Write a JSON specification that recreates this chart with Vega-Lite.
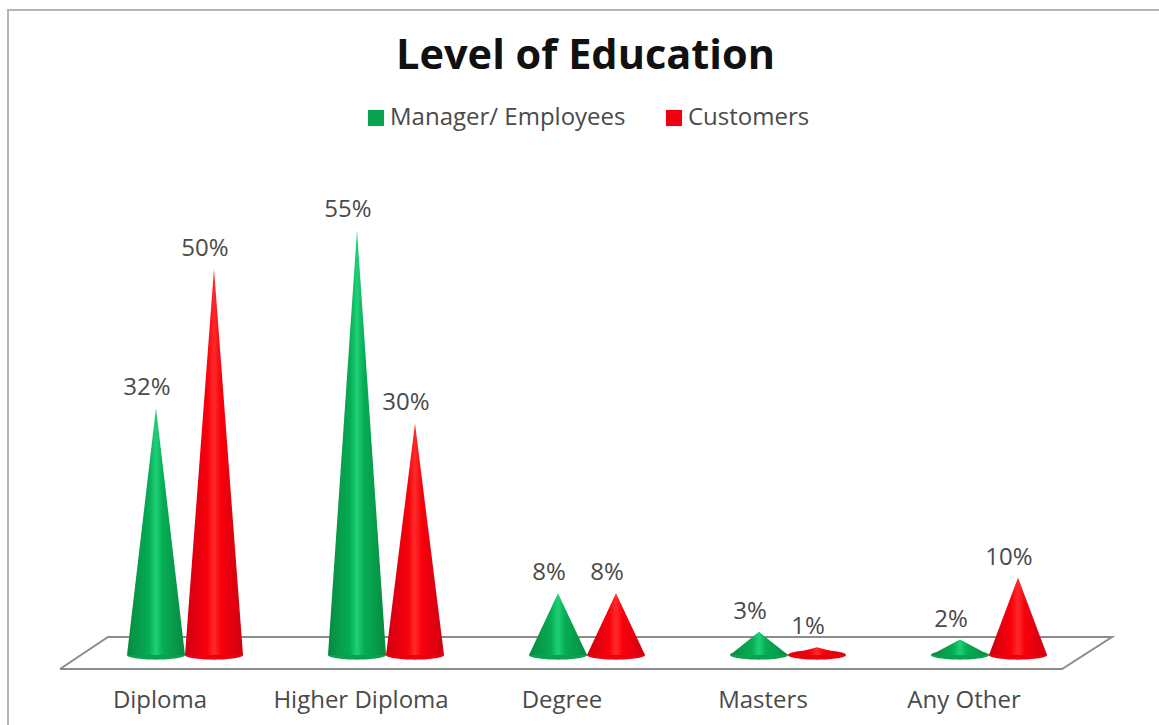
{
"$schema":"https://vega.github.io/schema/vega-lite/v6.json",
"width":1155,"height":720,"autosize":{"type":"none"},
"padding":{"left":8,"top":10,"right":0,"bottom":0},
"background":"white",
"view":{"stroke":"#b5b5b5","strokeWidth":2,"fill":"white"},
"title":{"text":"Level of Education","font":"Open Sans","fontWeight":"bold","fontSize":41.5,"color":"#111111","anchor":"middle","offset":-67},
"datasets":{
"cones":[
{"category":"Diploma","series":"Manager/ Employees","part":"left-edge","value":0},
{"category":"Diploma","series":"Manager/ Employees","part":"manager-tip","value":0.32},
{"category":"Diploma","series":"Manager/ Employees","part":"middle","value":0},
{"category":"Diploma","series":"Customers","part":"middle","value":0},
{"category":"Diploma","series":"Customers","part":"customer-tip","value":0.50},
{"category":"Diploma","series":"Customers","part":"right-edge","value":0},
{"category":"Higher Diploma","series":"Manager/ Employees","part":"left-edge","value":0},
{"category":"Higher Diploma","series":"Manager/ Employees","part":"manager-tip","value":0.55},
{"category":"Higher Diploma","series":"Manager/ Employees","part":"middle","value":0},
{"category":"Higher Diploma","series":"Customers","part":"middle","value":0},
{"category":"Higher Diploma","series":"Customers","part":"customer-tip","value":0.30},
{"category":"Higher Diploma","series":"Customers","part":"right-edge","value":0},
{"category":"Degree","series":"Manager/ Employees","part":"left-edge","value":0},
{"category":"Degree","series":"Manager/ Employees","part":"manager-tip","value":0.08},
{"category":"Degree","series":"Manager/ Employees","part":"middle","value":0},
{"category":"Degree","series":"Customers","part":"middle","value":0},
{"category":"Degree","series":"Customers","part":"customer-tip","value":0.08},
{"category":"Degree","series":"Customers","part":"right-edge","value":0},
{"category":"Masters","series":"Manager/ Employees","part":"left-edge","value":0},
{"category":"Masters","series":"Manager/ Employees","part":"manager-tip","value":0.03},
{"category":"Masters","series":"Manager/ Employees","part":"middle","value":0},
{"category":"Masters","series":"Customers","part":"middle","value":0},
{"category":"Masters","series":"Customers","part":"customer-tip","value":0.01},
{"category":"Masters","series":"Customers","part":"right-edge","value":0},
{"category":"Any Other","series":"Manager/ Employees","part":"left-edge","value":0},
{"category":"Any Other","series":"Manager/ Employees","part":"manager-tip","value":0.02},
{"category":"Any Other","series":"Manager/ Employees","part":"middle","value":0},
{"category":"Any Other","series":"Customers","part":"middle","value":0},
{"category":"Any Other","series":"Customers","part":"customer-tip","value":0.10},
{"category":"Any Other","series":"Customers","part":"right-edge","value":0}
],
"floor":[
{"corner":1,"across":0,"depth":0},
{"corner":2,"across":0.9525,"depth":0},
{"corner":3,"across":1,"depth":1},
{"corner":4,"across":0.0456,"depth":1},
{"corner":5,"across":0,"depth":0}
]
},
"resolve":{"scale":{"x":"independent","y":"independent"},"axis":{"x":"independent","y":"independent"}},
"layer":[
{
"data":{"name":"floor"},
"mark":{"type":"line","color":"#8c8c8c","strokeWidth":2,"clip":false},
"encoding":{
"x":{"field":"across","type":"quantitative","axis":null,"scale":{"domain":[0,1],"range":[52,1104],"nice":false,"zero":false}},
"y":{"field":"depth","type":"quantitative","axis":null,"scale":{"domain":[0,1],"range":[659,627],"nice":false,"zero":false}},
"order":{"field":"corner","type":"quantitative"}
}
},
{
"data":{"name":"cones"},
"encoding":{
"x":{"field":"category","type":"nominal","sort":["Diploma","Higher Diploma","Degree","Masters","Any Other"],
"scale":{"type":"band","range":[51.5,1056.5],"paddingInner":0,"paddingOuter":0},
"axis":{"title":null,"ticks":false,"domain":false,"grid":false,"labelAngle":0,"offset":-30,"labelPadding":0,"labelBaseline":"middle","labelFont":"Open Sans","labelFontSize":24,"labelColor":"#4a4a4a"}},
"y":{"field":"value","type":"quantitative","stack":null,"axis":null,"scale":{"domain":[0,0.8],"range":[645,27.4],"nice":false}},
"xOffset":{"field":"part","type":"nominal","scale":{"type":"point","domain":["left-edge","manager-tip","middle","customer-tip","right-edge"],"range":[67.5,183.5],"padding":0}}
},
"layer":[
{
"transform":[{"filter":"indexof(['manager-tip','customer-tip'],datum.part)>=0"}],
"mark":{"type":"point","filled":true,"opacity":1,"size":3364,"shape":"M-1,0A1,0.16 0 1,0 1,0A1,0.16 0 1,0 -1,0Z"},
"encoding":{
"y":{"datum":0,"type":"quantitative"},
"color":{"field":"series","type":"nominal","sort":["Manager/ Employees","Customers"],
"scale":{"domain":["Manager/ Employees","Customers"],"range":["#0aa24f","#ee0010"]},
"legend":{"title":null,"orient":"none","legendX":356,"legendY":96,"direction":"horizontal","symbolType":"square","symbolSize":260,"symbolStrokeWidth":0,"labelFont":"Open Sans","labelFontSize":24,"labelColor":"#4a4a4a","labelLimit":400,"columnPadding":36,"labelOffset":2}}
}
},
{
"transform":[{"filter":"datum.series==='Manager/ Employees'"}],
"mark":{"type":"area","orient":"vertical","line":false,"color":{"gradient":"linear","x1":0,"y1":0,"x2":1,"y2":0,"stops":[{"offset":0,"color":"#078a40"},{"offset":0.38,"color":"#06ad55"},{"offset":0.5,"color":"#1fd077"},{"offset":0.62,"color":"#06ad55"},{"offset":1,"color":"#078a40"}]}},
"encoding":{"detail":{"field":"category"}}
},
{
"transform":[{"filter":"datum.series==='Customers'"}],
"mark":{"type":"area","orient":"vertical","line":false,"color":{"gradient":"linear","x1":0,"y1":0,"x2":1,"y2":0,"stops":[{"offset":0,"color":"#cf0010"},{"offset":0.38,"color":"#f8000c"},{"offset":0.5,"color":"#ff2a2a"},{"offset":0.62,"color":"#f8000c"},{"offset":1,"color":"#cf0010"}]}},
"encoding":{"detail":{"field":"category"}}
},
{
"transform":[{"filter":"indexof(['manager-tip','customer-tip'],datum.part)>=0"}],
"mark":{"type":"text","font":"Open Sans","fontSize":24,"color":"#4a4a4a","baseline":"alphabetic","dx":-9,"dy":-13},
"encoding":{"text":{"field":"value","type":"quantitative","format":".0%"}}
}
]
}
]
}
